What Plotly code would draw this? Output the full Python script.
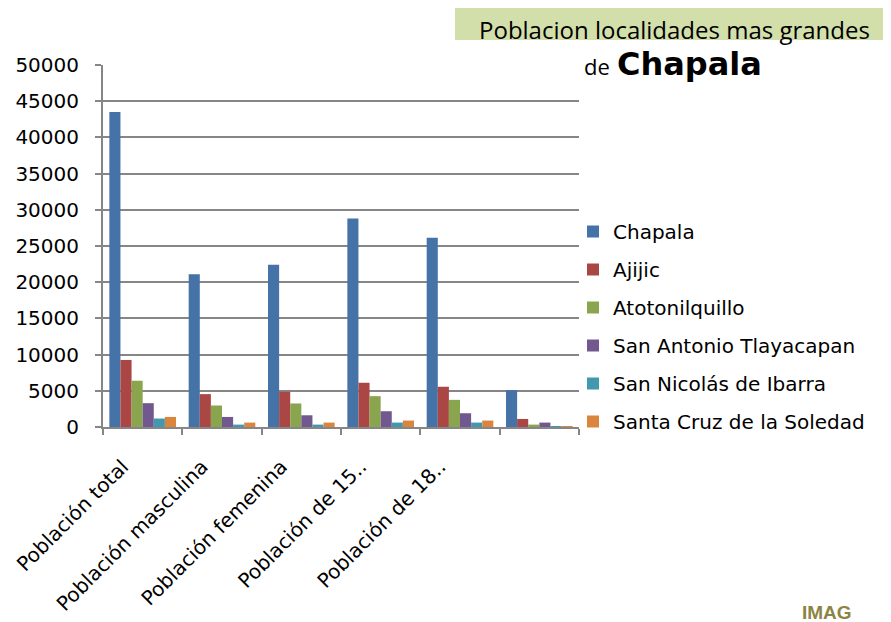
"""Poblacion localidades mas grandes de Chapala - grouped bar chart."""

import plotly.graph_objects as go

categories = [
    "Población total",
    "Población masculina",
    "Población femenina",
    "Población de 15..",
    "Población de 18..",
    "Población de 0..",
]
tick_labels = [
    "Población total",
    "Población masculina",
    "Población femenina",
    "Población de 15..",
    "Población de 18..",
    "",
]

chapala = [43500, 21100, 22400, 28800, 26150, 5100]
ajijic = [9260, 4540, 4860, 6110, 5560, 1110]
atotonilquillo = [6390, 2970, 3250, 4260, 3750, 330]
san_antonio = [3290, 1390, 1620, 2180, 1900, 610]
san_nicolas = [1170, 330, 330, 610, 610, 50]
santa_cruz = [1390, 610, 610, 890, 890, 100]

series = [
    ("Chapala", chapala, "#4572A7"),
    ("Ajijic", ajijic, "#AA4643"),
    ("Atotonilquillo", atotonilquillo, "#89A54E"),
    ("San Antonio Tlayacapan", san_antonio, "#71588F"),
    ("San Nicolás de Ibarra", san_nicolas, "#4198AF"),
    ("Santa Cruz de la Soledad", santa_cruz, "#DB843D"),
]

# the page body has an 8px margin, so the figure is drawn 8px smaller
OFF = 8
W, H = 891 - OFF, 622 - OFF
L, R, T, B = 103 - OFF, 891 - 579, 65 - OFF, 622 - 427
plot_w = W - L - R
plot_h = H - T - B


def px_x(p):
    # page pixel -> paper x
    return (p - OFF - L) / plot_w


def px_y(p):
    # page pixel -> paper y
    return (T + plot_h - (p - OFF)) / plot_h


fig = go.Figure()
for name, vals, color in series:
    fig.add_trace(
        go.Bar(
            x=categories,
            y=vals,
            name=name,
            legendgroup=name,
            marker=dict(color=color, line=dict(width=0)),
        )
    )

grid = "#868686"
fig.update_layout(
    width=W,
    height=H,
    margin=dict(l=L, r=R, t=T, b=B, autoexpand=False),
    paper_bgcolor="white",
    plot_bgcolor="white",
    barmode="group",
    bargap=0.16,
    bargroupgap=0,
    font=dict(family="DejaVu Sans", color="#000000"),
    legend=dict(
        x=px_x(573),
        xanchor="left",
        y=px_y(212),
        yanchor="top",
        font=dict(family="DejaVu Sans", size=20, color="#000000"),
        tracegroupgap=9,
        itemwidth=30,
        bgcolor="rgba(0,0,0,0)",
    ),
    xaxis=dict(
        tickvals=categories,
        ticktext=tick_labels,
        tickangle=-45,
        tickfont=dict(family="DejaVu Sans", size=20),
        ticklabelstandoff=18,
        ticklabelshift=-20,
        showline=True,
        linecolor=grid,
        linewidth=2,
        ticks="outside",
        tickson="boundaries",
        ticklen=6,
        tickcolor=grid,
        tickwidth=2,
        showgrid=False,
        automargin=False,
    ),
    yaxis=dict(
        range=[0, 50000],
        dtick=5000,
        tickformat="d",
        tickfont=dict(family="DejaVu Sans", size=20),
        ticklabelstandoff=12,
        showline=True,
        linecolor=grid,
        linewidth=2,
        ticks="outside",
        ticklen=6,
        tickcolor=grid,
        tickwidth=2,
        gridcolor=grid,
        gridwidth=2,
        zeroline=False,
        automargin=False,
    ),
)

# title box
fig.add_shape(
    type="rect",
    xref="paper",
    yref="paper",
    x0=px_x(455),
    x1=px_x(891),
    y0=px_y(40),
    y1=px_y(0),
    fillcolor="#D3DFAB",
    line=dict(width=0),
    layer="below",
)
fig.add_annotation(
    xref="paper",
    yref="paper",
    x=px_x(674),
    y=px_y(29),
    text="Poblacion localidades mas grandes",
    showarrow=False,
    xanchor="center",
    yanchor="middle",
    font=dict(family="Open Sans", size=24, color="#000000"),
)
fig.add_annotation(
    xref="paper",
    yref="paper",
    x=px_x(612),
    y=px_y(66),
    text="de",
    showarrow=False,
    xanchor="right",
    yanchor="middle",
    font=dict(family="Open Sans", size=22, color="#000000"),
)
fig.add_annotation(
    xref="paper",
    yref="paper",
    x=px_x(615),
    y=px_y(64),
    text="<b>Chapala</b>",
    showarrow=False,
    xanchor="left",
    yanchor="middle",
    font=dict(family="DejaVu Sans", size=32, color="#000000"),
)
# watermark at the bottom right
fig.add_annotation(
    xref="paper",
    yref="paper",
    x=px_x(800),
    y=px_y(600),
    text="<b>IMAG</b>",
    showarrow=False,
    xanchor="left",
    yanchor="top",
    font=dict(family="Liberation Sans", size=19, color="#8C8443"),
)

fig.write_html("out.html")
